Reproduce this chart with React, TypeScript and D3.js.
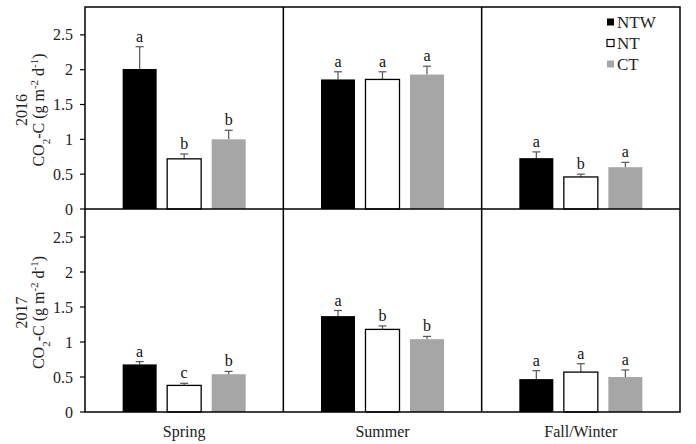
import React from 'react';
import * as d3 from 'd3';

const seasons = ['Spring', 'Summer', 'Fall/Winter'];
const treatments = ['NTW', 'NT', 'CT'];
const years = ['2016', '2017'];
const yTicks = [0, 0.5, 1, 1.5, 2, 2.5];

// 2016 means, standard errors, letters (Spring, Summer, Fall/Winter)
const ntw2016 = [2.01, 1.86, 0.73];
const ntw2016Se = [0.32, 0.11, 0.09];
const ntw2016Sig = ['a', 'a', 'a'];
const nt2016 = [0.72, 1.86, 0.46];
const nt2016Se = [0.07, 0.11, 0.04];
const nt2016Sig = ['b', 'a', 'b'];
const ct2016 = [1.0, 1.93, 0.6];
const ct2016Se = [0.13, 0.12, 0.07];
const ct2016Sig = ['b', 'a', 'a'];

// 2017
const ntw2017 = [0.68, 1.37, 0.47];
const ntw2017Se = [0.04, 0.08, 0.12];
const ntw2017Sig = ['a', 'a', 'a'];
const nt2017 = [0.38, 1.18, 0.57];
const nt2017Se = [0.03, 0.05, 0.12];
const nt2017Sig = ['c', 'b', 'a'];
const ct2017 = [0.54, 1.04, 0.5];
const ct2017Se = [0.04, 0.04, 0.1];
const ct2017Sig = ['b', 'b', 'a'];

const panels = [
  { year: years[0], mean: [ntw2016, nt2016, ct2016], se: [ntw2016Se, nt2016Se, ct2016Se], sig: [ntw2016Sig, nt2016Sig, ct2016Sig] },
  { year: years[1], mean: [ntw2017, nt2017, ct2017], se: [ntw2017Se, nt2017Se, ct2017Se], sig: [ntw2017Sig, nt2017Sig, ct2017Sig] },
];

const fills: Record<string, string> = { NTW: '#000000', NT: '#ffffff', CT: '#a6a6a6' };
const font = '"Liberation Serif", "Times New Roman", serif';

export default function App() {
  const width = 696;
  const height = 444;
  const left = 85;
  const right = 680;
  const top = 7;
  const mid = 209;
  const bottom = 412;

  const x0 = d3.scaleBand<string>().domain(seasons).range([left, right]).padding(0);
  const x1 = d3.scaleBand<string>()
    .domain(treatments)
    .range([0, x0.bandwidth()])
    .paddingInner(0.236)
    .paddingOuter(0.846);

  const yScales = [
    d3.scaleLinear().domain([0, 2.9]).range([mid, top]),
    d3.scaleLinear().domain([0, 2.9]).range([bottom, mid]),
  ];

  return (
    <div style={{ position: 'fixed', left: 0, top: 0 }}>
      <svg width={width} height={height} style={{ display: 'block', background: '#fff' }} fontFamily={font}>
        {panels.map((p, pi) => {
          const y = yScales[pi];
          const [y0, y1] = y.range();
          const cy = (y0 + y1) / 2 + 2;
          return (
            <g key={p.year}>
              {/* bars */}
              {seasons.map((s, si) => (
                <g key={s} transform={`translate(${x0(s)},0)`}>
                  {treatments.map((t, ti) => {
                    const m = p.mean[ti][si];
                    const e = p.se[ti][si];
                    const bx = x1(t)!;
                    const bw = x1.bandwidth();
                    const cx = bx + bw / 2;
                    return (
                      <g key={t}>
                        <line x1={cx} x2={cx} y1={y(m)} y2={y(m + e)} stroke="#555" strokeWidth={1.2} />
                        <line x1={cx - 4} x2={cx + 4} y1={y(m + e)} y2={y(m + e)} stroke="#555" strokeWidth={1.2} />
                        <rect
                          x={bx}
                          y={y(m)}
                          width={bw}
                          height={y(0) - y(m)}
                          fill={fills[t]}
                          stroke={t === 'NT' ? '#000' : 'none'}
                          strokeWidth={1.3}
                        />
                        <text x={cx} y={y(m + e) - 5} textAnchor="middle" fontSize={16} fill="#111">
                          {p.sig[ti][si]}
                        </text>
                      </g>
                    );
                  })}
                </g>
              ))}
              {/* y ticks */}
              {yTicks.map((v) => (
                <g key={v}>
                  <line x1={left - 5} x2={left} y1={y(v)} y2={y(v)} stroke="#000" strokeWidth={1.2} />
                  <text x={left - 12} y={y(v)} dy="0.35em" textAnchor="end" fontSize={16} fill="#222">
                    {String(v)}
                  </text>
                </g>
              ))}
              {/* y labels */}
              <text transform={`translate(27,${cy}) rotate(-90)`} textAnchor="middle" fontSize={16} fill="#222">
                {p.year}
              </text>
              <text transform={`translate(44,${cy}) rotate(-90)`} textAnchor="middle" fontSize={16} fill="#222">
                CO<tspan baselineShift="sub" fontSize={11}>2</tspan>
                <tspan>-C (g m</tspan>
                <tspan baselineShift="super" fontSize={11}>-2</tspan>
                <tspan> d</tspan>
                <tspan baselineShift="super" fontSize={11}>-1</tspan>
                <tspan>)</tspan>
              </text>
            </g>
          );
        })}

        {/* frame */}
        <rect x={left} y={top} width={right - left} height={bottom - top} fill="none" stroke="#000" strokeWidth={1.5} />
        <line x1={left} x2={right} y1={mid} y2={mid} stroke="#000" strokeWidth={1.5} />
        {seasons.slice(1).map((s) => (
          <line key={s} x1={x0(s)} x2={x0(s)} y1={top} y2={bottom} stroke="#000" strokeWidth={1.5} />
        ))}

        {/* x labels */}
        {seasons.map((s) => (
          <text key={s} x={x0(s)! + x0.bandwidth() / 2} y={437} textAnchor="middle" fontSize={16} fill="#222">
            {s}
          </text>
        ))}

        {/* legend */}
        {treatments.map((t, i) => (
          <g key={t} transform={`translate(607,${22 + i * 21})`}>
            <rect x={0} y={-3.5} width={7} height={7} fill={fills[t]} stroke={t === 'NT' ? '#000' : 'none'} strokeWidth={1.2} />
            <text x={10} y={0} dy="0.35em" fontSize={17} fill="#222">
              {t}
            </text>
          </g>
        ))}
      </svg>
    </div>
  );
}
